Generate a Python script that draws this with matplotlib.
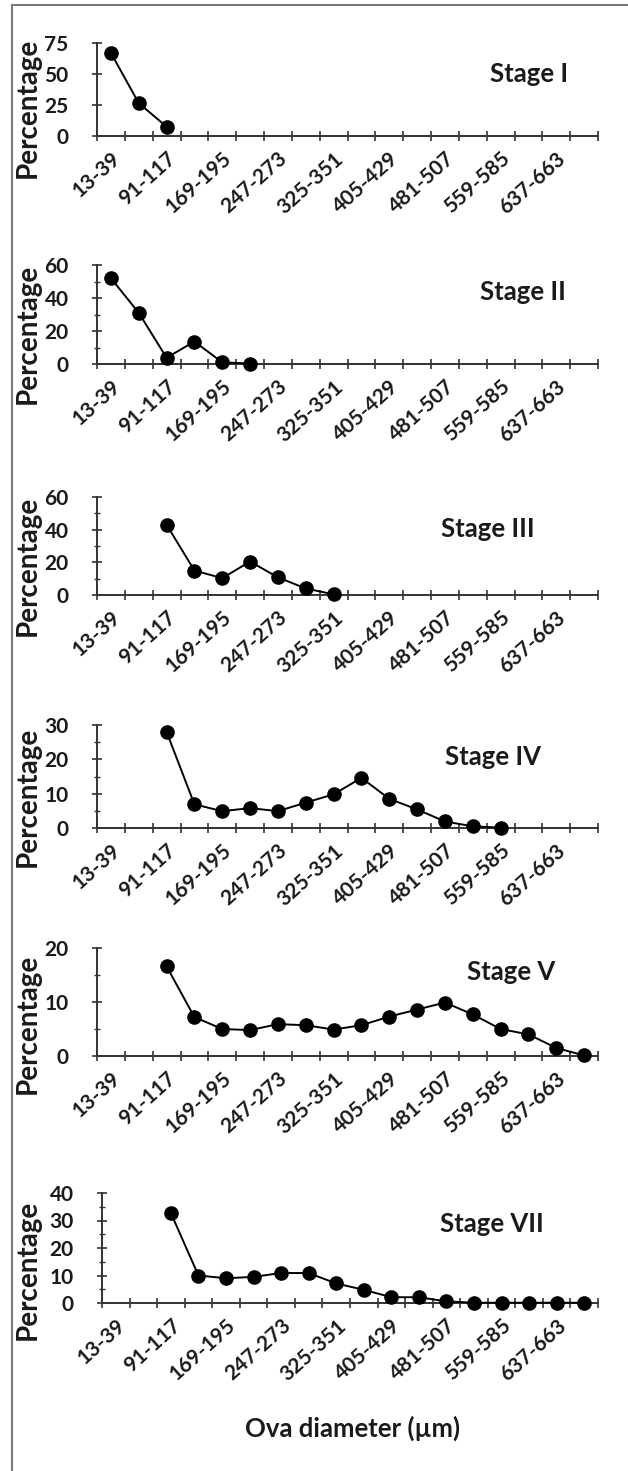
import matplotlib
matplotlib.use("Agg")
import matplotlib.pyplot as plt
from matplotlib.lines import Line2D
from matplotlib.ticker import FixedLocator, MultipleLocator
from matplotlib.transforms import ScaledTranslation

plt.rcParams['font.family'] = ['Lato', 'DejaVu Sans']
plt.rcParams['font.weight'] = 'bold'

# ova diameter classes (um); Excel only shows every other label
classes = ['13-39', '52-78', '91-117', '130-156', '169-195', '208-234', '247-273',
           '286-312', '325-351', '364-390', '405-429', '442-468', '481-507',
           '520-546', '559-585', '598-624', '637-663', '676-702']

stage_names = ['Stage I', 'Stage II', 'Stage III', 'Stage IV', 'Stage V', 'Stage VII']
first_class = [0, 0, 2, 2, 2, 2]

stage_I = [67, 26.5, 7.5]
stage_II = [52, 31, 3.8, 13.6, 1, 0.3]
stage_III = [43, 15, 10.3, 20.5, 10.8, 4, 0.4]
stage_IV = [28, 6.9, 4.9, 5.8, 4.9, 7.4, 9.8, 14.6, 8.5, 5.4, 1.9, 0.5, 0.1]
stage_V = [16.6, 7.2, 5.0, 4.8, 5.9, 5.7, 4.9, 5.7, 7.3, 8.6, 9.9, 7.7, 5.0, 4.0, 1.5, 0.1]
stage_VII = [32.7, 10, 9, 9.5, 10.9, 10.9, 7.1, 4.8, 2.1, 2.1, 0.6, 0.1, 0.1, 0.1, 0.1, 0.1]
series = [stage_I, stage_II, stage_III, stage_IV, stage_V, stage_VII]

y_max = [75, 60, 60, 30, 20, 40]
y_step = [25, 20, 20, 10, 10, 10]
y_minor = [None, 10, 10, 5, 5, 5]

W, H = 628, 1471
fig = plt.figure(figsize=(W / 100, H / 100), dpi=100)

# pixel layout: (y of top tick, y of zero line), x extent, stage label (x centre, baseline)
panel_px = [(43, 136), (265, 364), (497, 595), (725, 828), (948, 1056), (1193, 1303)]
panel_x = [(97, 598)] * 5 + [(102, 598)]
label_px = [(529, 82), (523, 300), (488, 537), (493, 765), (511, 980), (492, 1232)]

ink = '#1a1a1a'
shift = ScaledTranslation(10 / 100, 0, fig.dpi_scale_trans)
for i in range(6):
    top, zero = panel_px[i]
    x0, x1 = panel_x[i]
    ax = fig.add_axes([x0 / W, 1 - zero / H, (x1 - x0) / W, (zero - top) / H])
    vals = series[i]
    xs = list(range(first_class[i], first_class[i] + len(vals)))
    ax.plot(xs, vals, color='black', lw=1.4, marker='o', markersize=9.5,
            markerfacecolor='black', clip_on=False, zorder=3)

    ax.set_xlim(-0.5, len(classes) - 0.5)
    ax.set_ylim(0, y_max[i])
    ax.xaxis.set_major_locator(FixedLocator([k - 0.5 for k in range(len(classes) + 1)]))
    ax.xaxis.set_minor_locator(FixedLocator(list(range(0, len(classes), 2))))
    ax.set_xticklabels([], minor=False)
    ax.set_xticklabels(classes[::2], minor=True, rotation=42, ha='right',
                       rotation_mode='anchor', fontsize=15, color=ink)
    for lab in ax.get_xticklabels(minor=True):
        lab.set_transform(lab.get_transform() + shift)
    ax.tick_params(axis='x', which='major', direction='inout', length=7, width=1.2, color='#333333')
    ax.tick_params(axis='x', which='minor', length=0, pad=9)

    ax.yaxis.set_major_locator(MultipleLocator(y_step[i]))
    if y_minor[i]:
        ax.yaxis.set_minor_locator(MultipleLocator(y_minor[i]))
        ax.tick_params(axis='y', which='minor', direction='inout', length=5, width=1.0, color='#333333')
    ax.tick_params(axis='y', which='major', direction='inout', length=7, width=1.2,
                   color='#333333', labelsize=15, labelcolor=ink, pad=17)

    for s in ['top', 'right']:
        ax.spines[s].set_visible(False)
    for s in ['left', 'bottom']:
        ax.spines[s].set_color('#333333')
        ax.spines[s].set_linewidth(1.4)

    ax.set_ylabel('Percentage', fontsize=20, fontweight='bold', color=ink)
    ax.yaxis.set_label_coords((41 - x0) / (x1 - x0), 0.30)

    lx, ly = label_px[i]
    fig.text(lx / W, 1 - ly / H, stage_names[i], ha='center', va='baseline',
             fontsize=18.5, fontweight='bold', color=ink)

fig.text(353 / W, 1 - 1437 / H, 'Ova diameter (µm)', ha='center', va='baseline',
         fontsize=18.5, fontweight='bold', color=ink)

# thin frame on the left and top of the image
fig.add_artist(Line2D([12 / W, 12 / W], [0, 1 - 5 / H], color='#7a7a7a', lw=1.5))
fig.add_artist(Line2D([12 / W, 1], [1 - 5 / H, 1 - 5 / H], color='#7a7a7a', lw=1.5))

fig.savefig('out.png', dpi=100, facecolor='white')
